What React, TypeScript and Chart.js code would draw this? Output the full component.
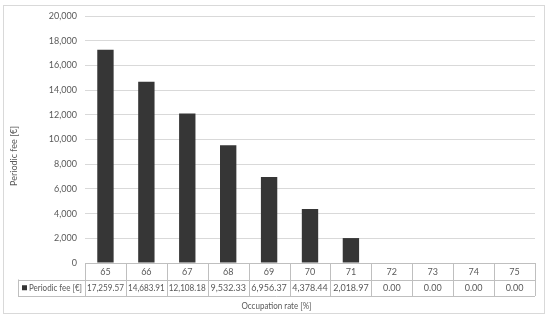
import React, { useEffect, useRef } from 'react';
import { Chart, registerables } from 'chart.js';

Chart.register(...registerables);

const categories = ['65', '66', '67', '68', '69', '70', '71', '72', '73', '74', '75'];
const periodicFee = [17259.57, 14683.91, 12108.18, 9532.33, 6956.37, 4378.44, 2018.97, 0, 0, 0, 0];
const seriesName = 'Periodic fee [€]';
const xTitle = 'Occupation rate [%]';
const yTitle = 'Periodic fee [€]';
const yMax = 20000;
const yStep = 2000;

const FONT = 'Lato, "Open Sans", sans-serif';
const TEXT = '#595959';
const BAR = '#363636';
const LINE = '#bfbfbf';

const fmt2 = (v: number) =>
  v.toLocaleString('en-US', { minimumFractionDigits: 2, maximumFractionDigits: 2 });

const tablePlugin = {
  id: 'dataTable',
  afterDraw(chart: any) {
    const ctx = chart.ctx as CanvasRenderingContext2D;
    const area = chart.chartArea;
    const xs = chart.scales.x;
    const n = categories.length;
    const left = area.left;
    const right = area.right;
    const cw = (right - left) / n;
    const top = area.bottom;
    const rowH = 16.5;
    const legendLeft = 18;
    const r1 = top + rowH;
    const r2 = top + rowH * 2;
    ctx.save();
    ctx.strokeStyle = LINE;
    ctx.lineWidth = 1;
    const h = (x1: number, x2: number, y: number) => {
      ctx.beginPath();
      ctx.moveTo(x1, Math.round(y) + 0.5);
      ctx.lineTo(x2, Math.round(y) + 0.5);
      ctx.stroke();
    };
    const v = (x: number, y1: number, y2: number) => {
      ctx.beginPath();
      ctx.moveTo(Math.round(x) + 0.5, y1);
      ctx.lineTo(Math.round(x) + 0.5, y2);
      ctx.stroke();
    };
    h(left, right, top);
    h(legendLeft, right, r1);
    h(legendLeft, right, r2);
    for (let i = 0; i <= n; i++) {
      v(left + i * cw, top, r2);
    }
    v(legendLeft, r1, r2);

    ctx.fillStyle = TEXT;
    ctx.textBaseline = 'middle';
    ctx.textAlign = 'center';
    for (let i = 0; i < n; i++) {
      const cx = xs.getPixelForValue(i);
      ctx.font = `9px ${FONT}`;
      ctx.fillText(categories[i], cx, top + rowH / 2 + 0.5);
      ctx.font = `9px ${FONT}`;
      ctx.fillText(fmt2(periodicFee[i]), cx, r1 + rowH / 2 + 0.5, cw - 4);
    }
    // legend cell
    ctx.fillStyle = BAR;
    ctx.fillRect(legendLeft + 4, r1 + rowH / 2 - 2.5, 5, 5);
    ctx.fillStyle = TEXT;
    ctx.textAlign = 'left';
    ctx.font = `9px ${FONT}`;
    ctx.fillText(seriesName, legendLeft + 11, r1 + rowH / 2 + 0.5, left - legendLeft - 14);

    // axis titles
    ctx.textAlign = 'center';
    ctx.font = `9px ${FONT}`;
    ctx.fillText(xTitle, (legendLeft + right) / 2, 306, 70);
    ctx.save();
    ctx.translate(14, (area.top + r2) / 2);
    ctx.rotate(-Math.PI / 2);
    ctx.fillText(yTitle, 0, 0, 62);
    ctx.restore();

    // outer border
    ctx.strokeStyle = '#d9d9d9';
    ctx.strokeRect(3.5, 5.5, 541, 308);
    ctx.restore();
  },
};

export default function App() {
  const ref = useRef<HTMLCanvasElement | null>(null);
  useEffect(() => {
    if (!ref.current) return;
    const chart = new Chart(ref.current, {
      type: 'bar',
      data: {
        labels: categories,
        datasets: [
          {
            label: seriesName,
            data: periodicFee,
            backgroundColor: BAR,
            borderWidth: 0,
            categoryPercentage: 1,
            barPercentage: 0.4,
          },
        ],
      },
      options: {
        responsive: false,
        animation: false,
        layout: { padding: { left: 0, top: 16, right: 15, bottom: 55 } },
        plugins: { legend: { display: false }, tooltip: { enabled: false } },
        scales: {
          x: { display: false },
          y: {
            min: 0,
            max: yMax,
            afterFit: (scale: any) => {
              scale.width = 85;
            },
            border: { display: false },
            grid: { color: '#d9d9d9', drawTicks: false },
            ticks: {
              stepSize: yStep,
              padding: 8,
              color: TEXT,
              font: { family: FONT, size: 9 },
              callback: (val: any) => Number(val).toLocaleString('en-US'),
            },
          },
        },
      },
      plugins: [tablePlugin],
    });
    return () => chart.destroy();
  }, []);
  return (
    <div style={{ position: 'absolute', left: 0, top: 0, width: 550, height: 318, background: '#fff' }}>
      <canvas ref={ref} width={550} height={318} />
    </div>
  );
}
